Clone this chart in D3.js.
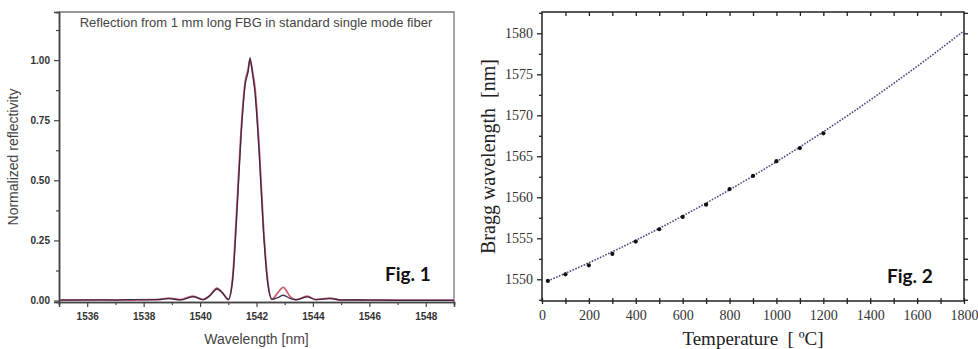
<!DOCTYPE html>
<html>
<head>
<meta charset="utf-8">
<script src="https://cdn.jsdelivr.net/npm/d3@7"></script>
<style>
	body { margin: 0; background: #fff; }
	svg { display: block; }
	text { white-space: pre; }
</style>
</head>
<body>
<svg id="chart" width="978" height="349"></svg>
<script>
// Fig. 1: reflection spectra (measured + simulated)
const wavelengthsA = [1535, 1536, 1537, 1537.5, 1538, 1538.5, 1538.9, 1539.3, 1539.75, 1540.1, 1540.35, 1540.6, 1540.8, 1541.0, 1541.15, 1541.3, 1541.45, 1541.6, 1541.7, 1541.77, 1541.85, 1541.95, 1542.1, 1542.25, 1542.4, 1542.55, 1542.75, 1542.95, 1543.2, 1543.4, 1543.8, 1544.1, 1544.6, 1545, 1546, 1547, 1548, 1549]
const reflDark = [0.002, 0.003, 0.002, 0.004, 0.003, 0.005, 0.008, 0.003, 0.016, 0.004, 0.02, 0.048, 0.03, 0.005, 0.08, 0.35, 0.68, 0.9, 0.95, 1.01, 0.95, 0.86, 0.6, 0.28, 0.07, 0.005, 0.012, 0.022, 0.008, 0.004, 0.015, 0.004, 0.008, 0.003, 0.002, 0.001, 0.001, 0.001]
const reflRed = [0.003, 0.002, 0.003, 0.002, 0.004, 0.003, 0.01, 0.004, 0.018, 0.004, 0.022, 0.052, 0.032, 0.004, 0.09, 0.38, 0.7, 0.91, 0.96, 1.0, 0.96, 0.88, 0.63, 0.3, 0.08, 0.006, 0.032, 0.055, 0.015, 0.003, 0.018, 0.004, 0.01, 0.002, 0.003, 0.002, 0.002, 0.002]
const xTicksA = [1536, 1538, 1540, 1542, 1544, 1546, 1548]
const yTicksA = [0, 0.25, 0.5, 0.75, 1.0]

// Fig. 2: Bragg wavelength vs temperature
const tempMeasured = [25, 100, 200, 300, 400, 500, 600, 700, 800, 900, 1000, 1100, 1200]
const braggMeasured = [1549.8, 1550.6, 1551.7, 1553.1, 1554.6, 1556.1, 1557.6, 1559.1, 1561.0, 1562.6, 1564.4, 1566.0, 1567.8]
const tempFit = [25, 100, 200, 300, 400, 500, 600, 700, 800, 900, 1000, 1100, 1200, 1300, 1400, 1500, 1600, 1700, 1800]
const braggFit = [1549.8, 1550.73, 1552.01, 1553.36, 1554.75, 1556.21, 1557.72, 1559.29, 1560.92, 1562.6, 1564.34, 1566.14, 1567.99, 1569.9, 1571.87, 1573.89, 1575.97, 1578.11, 1580.3]
const xTicksB = [0, 200, 400, 600, 800, 1000, 1200, 1400, 1600, 1800]
const yTicksB = [1550, 1555, 1560, 1565, 1570, 1575, 1580]

const svg = d3.select("#chart")

//---------------- left panel
function drawLeft() {
	const L = 59, R = 454, T = 12, B = 302
	const x = d3.scaleLinear().domain([1535, 1549]).range([L, R])
	const y = d3.scaleLinear().domain([-0.006, 1.2]).range([B, T])
	const g = svg.append("g").attr("font-family", "'Liberation Sans', Arial, sans-serif")

	//frame, top + right lighter
	g.append("path").attr("d", `M${L},${T}H${R}V${B}`).attr("fill", "none").attr("stroke", "#777").attr("stroke-width", 1.3)

	const xAxis = d3.axisBottom(x).tickValues(xTicksA).tickFormat(d3.format("d")).tickSize(5).tickPadding(6)
	const xMinor = d3.axisBottom(x).tickValues(d3.range(1535, 1550, 1).filter(v => !xTicksA.includes(v))).tickFormat("").tickSize(3)
	const yAxis = d3.axisLeft(y).tickValues(yTicksA).tickFormat(d3.format(".2f")).tickSize(5).tickPadding(4)
	const yMinor = d3.axisLeft(y).tickValues([0.125, 0.375, 0.625, 0.875, 1.125]).tickFormat("").tickSize(3)

	for (const [ax, tr] of [[xAxis, `translate(0,${B})`], [xMinor, `translate(0,${B})`], [yAxis, `translate(${L},0)`], [yMinor, `translate(${L},0)`]]) {
		const a = g.append("g").attr("transform", tr).call(ax)
		a.select(".domain").attr("stroke", "#444").attr("stroke-width", 1.5)
		a.selectAll(".tick line").attr("stroke", "#444").attr("stroke-width", 1.2)
		a.selectAll(".tick text").attr("font-size", 10).attr("font-weight", "bold").attr("fill", "#333").attr("font-family", "'Liberation Sans', Arial, sans-serif")
	}

	const line = d3.line().x(d => x(d[0])).y(d => y(d[1])).curve(d3.curveMonotoneX)
	g.append("path").datum(d3.zip(wavelengthsA, reflRed))
		.attr("d", line).attr("fill", "none").attr("stroke", "#cc5f72").attr("stroke-width", 1.8)
	g.append("path").datum(d3.zip(wavelengthsA, reflDark))
		.attr("d", line).attr("fill", "none").attr("stroke", "#2d1f3f").attr("stroke-width", 1.3).attr("opacity", 0.9)

	g.append("text").attr("x", 256).attr("y", 27).attr("text-anchor", "middle")
		.attr("font-size", 13).attr("fill", "#444")
		.text("Reflection from 1 mm long FBG in standard single mode fiber")

	g.append("text").attr("transform", `translate(18,${(T + B) / 2}) rotate(-90)`).attr("text-anchor", "middle")
		.attr("font-size", 14).attr("fill", "#444").text("Normalized reflectivity")

	g.append("text").attr("x", (L + R) / 2).attr("y", 344).attr("text-anchor", "middle")
		.attr("font-size", 14).attr("fill", "#444").text("Wavelength [nm]")

	g.append("text").attr("x", 385).attr("y", 281).attr("font-family", "Lato, 'Open Sans', sans-serif")
		.attr("font-weight", "bold").attr("font-size", 19).attr("fill", "#111").text("Fig. 1")
}

//---------------- right panel
function drawRight() {
	const L = 542, R = 964, T = 12, B = 301
	const x = d3.scaleLinear().domain([0, 1800]).range([L, R])
	const y = d3.scaleLinear().domain([1547.35, 1582.6]).range([B, T])
	const g = svg.append("g").attr("font-family", "'Liberation Serif', 'Times New Roman', serif")

	g.append("rect").attr("x", L).attr("y", T).attr("width", R - L).attr("height", B - T)
		.attr("fill", "none").attr("stroke", "#222").attr("stroke-width", 1.5)

	const minorX = d3.range(100, 1800, 100)
	const minorY = d3.range(1547.5, 1583, 2.5)

	//left axis: ticks outward
	const yl = g.append("g").attr("transform", `translate(${L},0)`)
		.call(d3.axisLeft(y).tickValues(yTicksB).tickFormat(d3.format("d")).tickSize(5).tickPadding(4))
	yl.append("g").call(d3.axisLeft(y).tickValues(minorY.filter(v => !yTicksB.includes(v))).tickFormat("").tickSize(3))
	//right axis: ticks outward
	g.append("g").attr("transform", `translate(${R},0)`)
		.call(d3.axisRight(y).tickValues(minorY).tickFormat("").tickSize(4))
	//top axis: ticks inward
	g.append("g").attr("transform", `translate(0,${T})`)
		.call(d3.axisBottom(x).tickValues(minorX).tickFormat("").tickSize(4))
	//bottom axis: ticks crossing
	const xb = g.append("g").attr("transform", `translate(0,${B})`)
		.call(d3.axisBottom(x).tickValues(xTicksB).tickFormat(d3.format("d")).tickSize(3).tickPadding(6))
	xb.append("g").call(d3.axisBottom(x).tickValues(minorX.filter(v => !xTicksB.includes(v))).tickFormat("").tickSize(3))
	xb.selectAll(".tick line").attr("y1", -3)

	g.selectAll(".domain").remove()
	g.selectAll(".tick line").attr("stroke", "#222").attr("stroke-width", 1.3)
	g.selectAll(".tick text").attr("font-size", 14).attr("fill", "#333").attr("font-family", "'Liberation Serif', 'Times New Roman', serif")

	const line = d3.line().x(d => x(d[0])).y(d => y(d[1])).curve(d3.curveCatmullRom)
	g.append("path").datum(d3.zip(tempFit, braggFit))
		.attr("d", line).attr("fill", "none").attr("stroke", "#4a4a7e").attr("stroke-width", 1.6)
		.attr("stroke-dasharray", "1.6,1.4")

	g.selectAll("circle.pt").data(d3.zip(tempMeasured, braggMeasured)).join("circle")
		.classed("pt", true)
		.attr("cx", d => x(d[0])).attr("cy", d => y(d[1])).attr("r", 2.1).attr("fill", "#111")

	g.append("text").attr("transform", `translate(495,${(T + B) / 2}) rotate(-90)`).attr("text-anchor", "middle")
		.attr("font-size", 20).attr("fill", "#222").text("Bragg wavelength  [nm]")

	g.append("text").attr("x", 753).attr("y", 345).attr("text-anchor", "middle")
		.attr("font-size", 19).attr("fill", "#222").text("Temperature  [ ºC]")

	g.append("text").attr("x", 887).attr("y", 283).attr("font-family", "Lato, 'Open Sans', sans-serif")
		.attr("font-weight", "bold").attr("font-size", 19).attr("fill", "#111").text("Fig. 2")
}

drawLeft()
drawRight()
</script>
</body>
</html>
